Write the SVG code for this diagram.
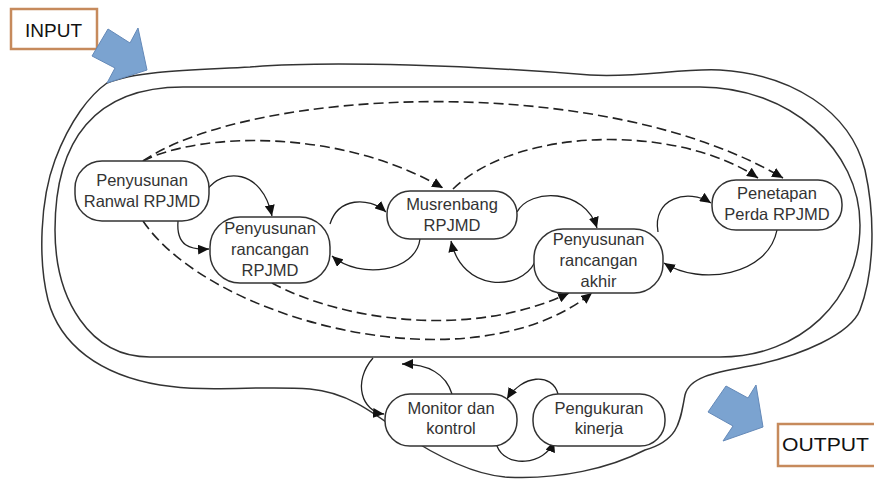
<svg xmlns="http://www.w3.org/2000/svg" width="874" height="479" viewBox="0 0 874 479">
<defs>
<marker id="ah" markerUnits="userSpaceOnUse" markerWidth="12" markerHeight="10" refX="11" refY="5" orient="auto"><path d="M0,0 L11,5 L0,10 Z" fill="#111"/></marker>
<style>
.bd{fill:none;stroke:#333;stroke-width:1.5}
.nd rect{fill:#fff;stroke:#333;stroke-width:1.5}
.nd text{font-family:"Liberation Sans",Arial,sans-serif;font-size:16.5px;fill:#333;text-anchor:middle}
.sc{fill:none;stroke:#222;stroke-width:1.3;marker-end:url(#ah)}
.dc{fill:none;stroke:#222;stroke-width:1.6;stroke-dasharray:10,5;marker-end:url(#ah)}
.bx{fill:#fff;stroke:#c68a5c;stroke-width:2.5}
.bt{font-family:"Liberation Sans",Arial,sans-serif;font-size:18px;fill:#111}
.ba{fill:#7ba3d0;stroke:#6489b8;stroke-width:1}
</style>
</defs>
<rect width="874" height="479" fill="#fff"/>
<g id="boundaries">
<path class="bd" d="M107,83 C140,70 200,70 250,67 C330,60 480,66 590,75 C640,78 680,68 720,70 C790,74 850,110 865,170 C875,215 875,270 860,310 C850,335 800,355 760,364 C720,372 690,375 685,395 C680,420 680,440 645,450 C610,468 560,480 505,477 C470,474 430,452 400,432 C370,410 345,392 310,389 C260,385 210,393 160,385 C100,375 60,345 48,300 C38,260 40,200 55,160 C70,120 90,95 107,83 Z"/>
<path class="bd" d="M183,87 L700,87 C790,87 860,150 860,225 C860,300 800,357 720,357 L150,357 C90,357 55,300 55,230 C55,140 95,87 183,87 Z"/>
</g>
<g id="input">
<rect class="bx" x="11" y="9" width="86" height="40"/>
<text class="bt" x="25" y="37" textLength="57" lengthAdjust="spacingAndGlyphs">INPUT</text>
<polygon class="ba" points="108,29 130,43 138,28 147,70 107,83 115,68 92,56"/>
</g>
<g id="output">
<polygon class="ba" points="726,386 748,398 756,385 763,427 723,441 733,426 708,412"/>
<rect class="bx" x="778" y="424" width="98" height="42"/>
<text class="bt" x="782" y="451" textLength="87" lengthAdjust="spacingAndGlyphs">OUTPUT</text>
</g>
<g id="connectors">
<path class="dc" d="M143,161 C250,88 600,70 783,178"/>
<path class="dc" d="M143,161 C200,132 340,128 443,188"/>
<path class="dc" d="M453,189 C520,125 680,125 758,178"/>
<path class="dc" d="M143,221 C210,320 470,390 592,293"/>
<path class="dc" d="M272,283 C340,320 470,340 569,293"/>
<path class="sc" d="M207,190 C222,168 262,168 272,216"/>
<path class="sc" d="M178,221 C176,246 190,250 209,249"/>
<path class="sc" d="M330,224 C338,198 368,196 386,212"/>
<path class="sc" d="M420,239 C416,272 360,280 332,256"/>
<path class="sc" d="M517,212 C530,188 585,188 597,228"/>
<path class="sc" d="M535,262 C520,292 462,292 451,241"/>
<path class="sc" d="M658,232 C652,198 688,188 711,203"/>
<path class="sc" d="M777,230 C768,276 700,286 664,263"/>
<path class="sc" d="M373,358 C352,382 362,412 384,414"/>
<path class="sc" d="M452,394 C446,374 428,364 402,364"/>
<path class="sc" d="M558,394 C552,372 522,375 507,399"/>
<path class="sc" d="M497,446 C505,468 545,466 554,441"/>
</g>
<g id="n1" class="nd"><rect x="75" y="161" width="134" height="60" rx="27"/><text x="142" y="186">Penyusunan</text><text x="142" y="207">Ranwal RPJMD</text></g>
<g id="n2" class="nd"><rect x="210" y="217" width="120" height="66" rx="30"/><text x="270" y="234">Penyusunan</text><text x="270" y="255">rancangan</text><text x="270" y="276">RPJMD</text></g>
<g id="n3" class="nd"><rect x="387" y="191" width="130" height="48" rx="23"/><text x="452" y="210">Musrenbang</text><text x="452" y="231">RPJMD</text></g>
<g id="n4" class="nd"><rect x="534" y="229" width="129" height="64" rx="29"/><text x="598.5" y="245">Penyusunan</text><text x="598.5" y="266">rancangan</text><text x="598.5" y="287">akhir</text></g>
<g id="n5" class="nd"><rect x="712" y="180" width="130" height="50" rx="24"/><text x="777" y="199">Penetapan</text><text x="777" y="220">Perda RPJMD</text></g>
<g id="n6" class="nd"><rect x="385" y="394" width="132" height="52" rx="25"/><text x="451" y="414">Monitor dan</text><text x="451" y="434">kontrol</text></g>
<g id="n7" class="nd"><rect x="533" y="394" width="132" height="52" rx="25"/><text x="599" y="414">Pengukuran</text><text x="599" y="434">kinerja</text></g>
</svg>
